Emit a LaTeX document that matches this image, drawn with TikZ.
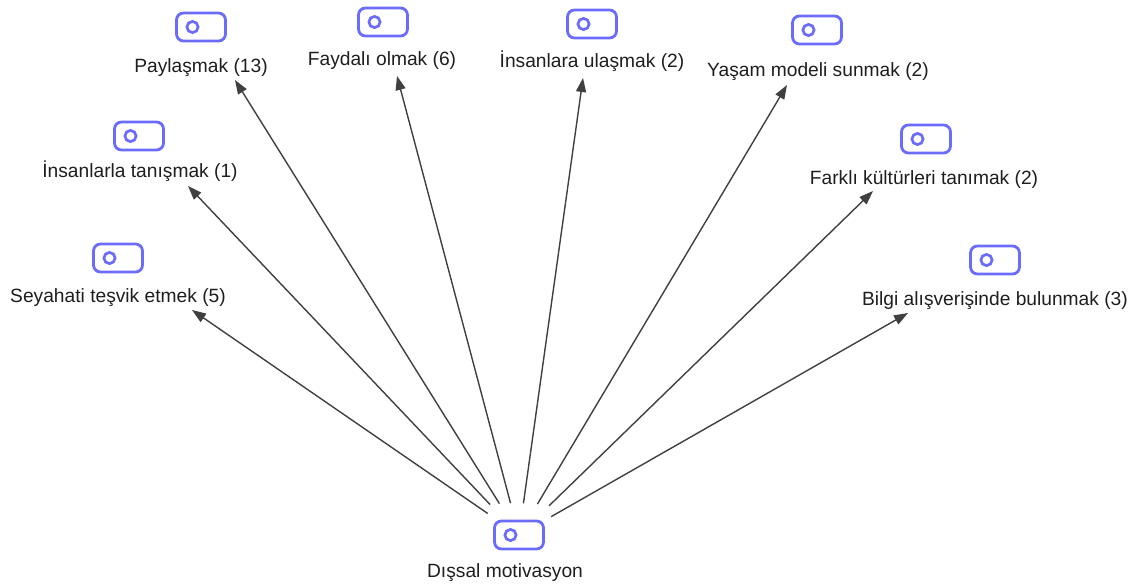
\documentclass[tikz,border=0pt]{standalone}
\usepackage{fontspec}
\setmainfont{Liberation Sans}
\usetikzlibrary{arrows.meta}
\definecolor{iconblue}{RGB}{108,108,250}
\definecolor{edgegray}{RGB}{64,64,64}
\definecolor{txt}{RGB}{30,30,30}
\begin{document}
\begin{tikzpicture}[x=1pt,y=-1pt,
  codeicon/.style={draw=iconblue, line width=2.8pt, rounded corners=7pt,
    minimum width=49pt, minimum height=28pt, inner sep=0pt,
    path picture={\draw[iconblue, line width=2.7pt]
      ([xshift=16pt]path picture bounding box.west) circle (5.6pt);}},
  lbl/.style={anchor=base, inner sep=0pt, text=txt,
    font=\fontsize{19.2}{22}\selectfont},
  edge/.style={draw=edgegray, line width=1.4pt,
    -{Triangle[length=14pt,width=10pt]}}]
\useasboundingbox (0,0) rectangle (1137,587);
% source
\node[codeicon] (src) at (519,535) {};
\node[lbl] (srcl) at (505,577) {Dışsal motivasyon};
% targets
\node[codeicon] (i1) at (118,258) {};
\node[lbl] (l1) at (118,302) {Seyahati teşvik etmek (5)};
\node[codeicon] (i2) at (139,136) {};
\node[lbl] (l2) at (140,177) {İnsanlarla tanışmak (1)};
\node[codeicon] (i3) at (201,27) {};
\node[lbl] (l3) at (201,72) {Paylaşmak (13)};
\node[codeicon] (i4) at (383,22) {};
\node[lbl] (l4) at (382,65) {Faydalı olmak (6)};
\node[codeicon] (i5) at (592,24) {};
\node[lbl] (l5) at (592,67) {İnsanlara ulaşmak (2)};
\node[codeicon] (i6) at (817,30) {};
\node[lbl] (l6) at (818,76) {Yaşam modeli sunmak (2)};
\node[codeicon] (i7) at (926,139) {};
\node[lbl] (l7) at (924,184) {Farklı kültürleri tanımak (2)};
\node[codeicon] (i8) at (995,260) {};
\node[lbl] (l8) at (995,305) {Bilgi alışverişinde bulunmak (3)};
% arrow tips
\coordinate (t1) at (192,310);
\coordinate (t2) at (188,186);
\coordinate (t3) at (235,80);
\coordinate (t4) at (397,76);
\coordinate (t5) at (583,78);
\coordinate (t6) at (787,85);
\coordinate (t7) at (873,191);
\coordinate (t8) at (908,313);
\draw[edge, shorten <=38pt] (src.center) -- (t1);
\draw[edge, shorten <=42pt] (src.center) -- (t2);
\draw[edge, shorten <=37pt] (src.center) -- (t3);
\draw[edge, shorten <=33pt] (src.center) -- (t4);
\draw[edge, shorten <=32pt] (src.center) -- (t5);
\draw[edge, shorten <=36pt] (src.center) -- (t6);
\draw[edge, shorten <=42pt] (src.center) -- (t7);
\draw[edge, shorten <=37pt] (src.center) -- (t8);
\end{tikzpicture}
\end{document}
